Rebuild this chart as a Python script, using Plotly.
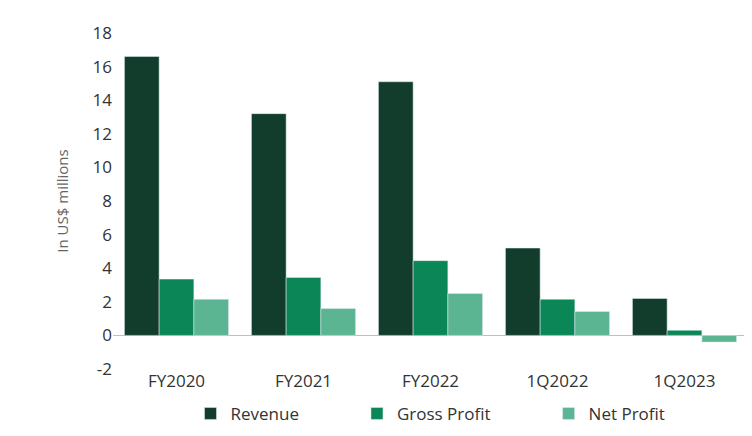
import plotly.graph_objects as go

categories = ["FY2020", "FY2021", "FY2022", "1Q2022", "1Q2023"]
revenue = [16.6, 13.2, 15.1, 5.2, 2.2]
gross_profit = [3.35, 3.45, 4.45, 2.15, 0.3]
net_profit = [2.15, 1.6, 2.5, 1.42, -0.4]
y_ticks = [-2, 0, 2, 4, 6, 8, 10, 12, 14, 16, 18]

fig = go.Figure()
fig.add_trace(go.Bar(x=categories, y=revenue, name="Revenue" + "\u00a0" * 12, marker_color="#123d2c"))
fig.add_trace(go.Bar(x=categories, y=gross_profit, name="Gross Profit" + "\u00a0" * 12, marker_color="#0b8656"))
fig.add_trace(go.Bar(x=categories, y=net_profit, name="Net Profit", marker_color="#5cb592"))

fig.update_layout(
    width=752, height=436,
    margin=dict(l=105, r=12, t=25, b=59),
    plot_bgcolor="white", paper_bgcolor="white",
    font=dict(family="Open Sans", size=17, color="#333333"),
    barmode="group", bargap=0.18, bargroupgap=0,
    legend=dict(orientation="h", x=0.5, xanchor="center", y=-0.08, yanchor="top",
                font=dict(size=17), itemwidth=30, traceorder="normal"),
    xaxis=dict(showgrid=False, showline=False, ticks="", tickfont=dict(size=17), automargin=False),
    yaxis=dict(range=[-2, 18], tickvals=y_ticks, ticktext=[str(v) for v in y_ticks],
               showgrid=False, zeroline=True, zerolinecolor="#bfbfbf", automargin=False,
               zerolinewidth=1, tickfont=dict(size=17),
               title=dict(text="In US$ millions", font=dict(size=15, color="#666666"), standoff=20)),
)

fig.write_html("out.html")
